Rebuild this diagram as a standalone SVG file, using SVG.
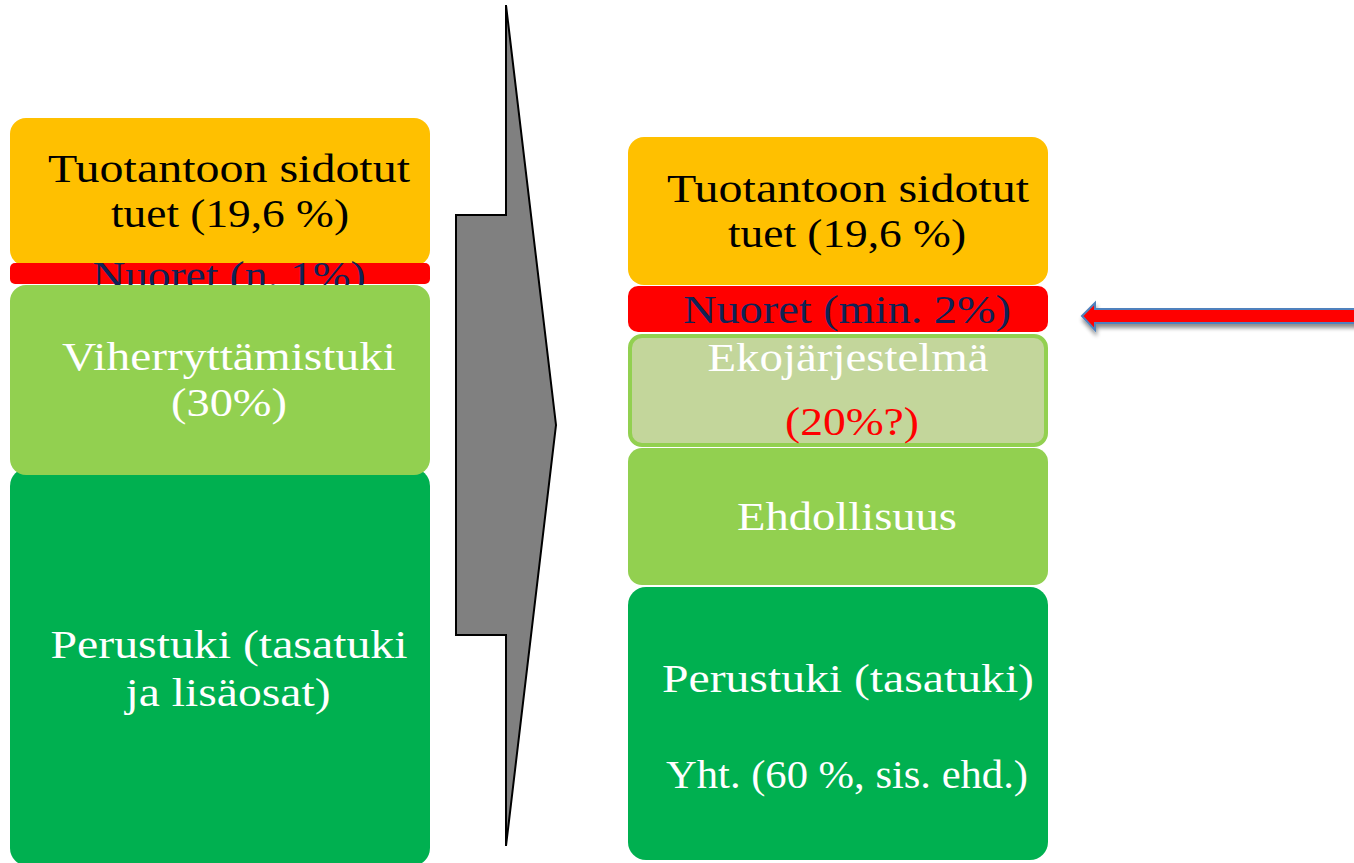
<svg xmlns="http://www.w3.org/2000/svg" width="1354" height="863" viewBox="0 0 1354 863">
<defs>
<style>
.t{font-family:"Liberation Serif","Times New Roman",serif;font-size:40px;text-anchor:middle}
.blk{fill:#000}
.wht{fill:#fff}
.nav{fill:#0F2356}
.red{fill:#FF0000}
.or{fill:#FFC000}
.rd{fill:#FF0000}
.lg{fill:#92D050}
.dg{fill:#00B050}
.eko{fill:#C3D69B;stroke:#92D050;stroke-width:4}
</style>
<filter id="sh" x="-5%" y="-50%" width="110%" height="200%">
<feGaussianBlur in="SourceAlpha" stdDeviation="2"/>
<feOffset dx="1" dy="4" result="b"/>
<feComponentTransfer><feFuncA type="linear" slope="0.45"/></feComponentTransfer>
<feMerge><feMergeNode/><feMergeNode in="SourceGraphic"/></feMerge>
</filter>
</defs>
<rect width="1354" height="863" fill="#fff"/>

<g id="connectors">
<polygon points="506,5 556,425 506,846 506,635 456,635 456,215 506,215" fill="#808080" stroke="#000" stroke-width="2" stroke-linejoin="miter"/>
<polygon points="1082,316 1095,303 1095,309 1358,309 1358,323 1095,323 1095,330" fill="#FF0000" stroke="#4F81BD" stroke-width="2" filter="url(#sh)"/>
</g>

<g id="left-dg">
<rect x="10" y="468" width="420" height="398" rx="18" class="dg"/>
<text class="t wht" x="229" y="658" textLength="357" lengthAdjust="spacingAndGlyphs">Perustuki (tasatuki</text>
<text class="t wht" x="228" y="706" textLength="205" lengthAdjust="spacingAndGlyphs">ja lisäosat)</text>
</g>
<g id="left-orange">
<rect x="10" y="118" width="420" height="148" rx="16" class="or"/>
<text class="t blk" x="229" y="182" textLength="362" lengthAdjust="spacingAndGlyphs">Tuotantoon sidotut</text>
<text class="t blk" x="230" y="227" textLength="238" lengthAdjust="spacingAndGlyphs">tuet (19,6 %)</text>
</g>
<g id="left-red">
<rect x="10" y="263" width="420" height="21" rx="5" class="rd"/>
<text class="t nav" x="229" y="289" textLength="273" lengthAdjust="spacingAndGlyphs">Nuoret (n. 1%)</text>
</g>
<g id="left-lg">
<rect x="10" y="285" width="420" height="190" rx="16" class="lg"/>
<text class="t wht" x="229" y="370" textLength="334" lengthAdjust="spacingAndGlyphs">Viherryttämistuki</text>
<text class="t wht" x="229" y="416" textLength="116" lengthAdjust="spacingAndGlyphs">(30%)</text>
</g>

<g id="right-orange">
<rect x="628" y="137" width="420" height="148" rx="16" class="or"/>
<text class="t blk" x="848" y="202" textLength="362" lengthAdjust="spacingAndGlyphs">Tuotantoon sidotut</text>
<text class="t blk" x="847" y="247" textLength="238" lengthAdjust="spacingAndGlyphs">tuet (19,6 %)</text>
</g>
<g id="right-red">
<rect x="628" y="286" width="420" height="46" rx="10" class="rd"/>
<text class="t nav" x="847" y="323" textLength="328" lengthAdjust="spacingAndGlyphs">Nuoret (min. 2%)</text>
</g>
<g id="right-eko">
<rect x="630" y="336" width="416" height="109" rx="12" class="eko"/>
<text class="t wht" x="848" y="371" textLength="281" lengthAdjust="spacingAndGlyphs">Ekojärjestelmä</text>
<text class="t red" x="852" y="435" textLength="134" lengthAdjust="spacingAndGlyphs">(20%?)</text>
</g>
<g id="right-lg">
<rect x="628" y="448" width="420" height="137" rx="14" class="lg"/>
<text class="t wht" x="847" y="530" textLength="220" lengthAdjust="spacingAndGlyphs">Ehdollisuus</text>
</g>
<g id="right-dg">
<rect x="628" y="587" width="420" height="273" rx="18" class="dg"/>
<text class="t wht" x="848" y="692" textLength="372" lengthAdjust="spacingAndGlyphs">Perustuki (tasatuki)</text>
<text class="t wht" x="847" y="788" textLength="362" lengthAdjust="spacingAndGlyphs">Yht. (60 %, sis. ehd.)</text>
</g>
</svg>
